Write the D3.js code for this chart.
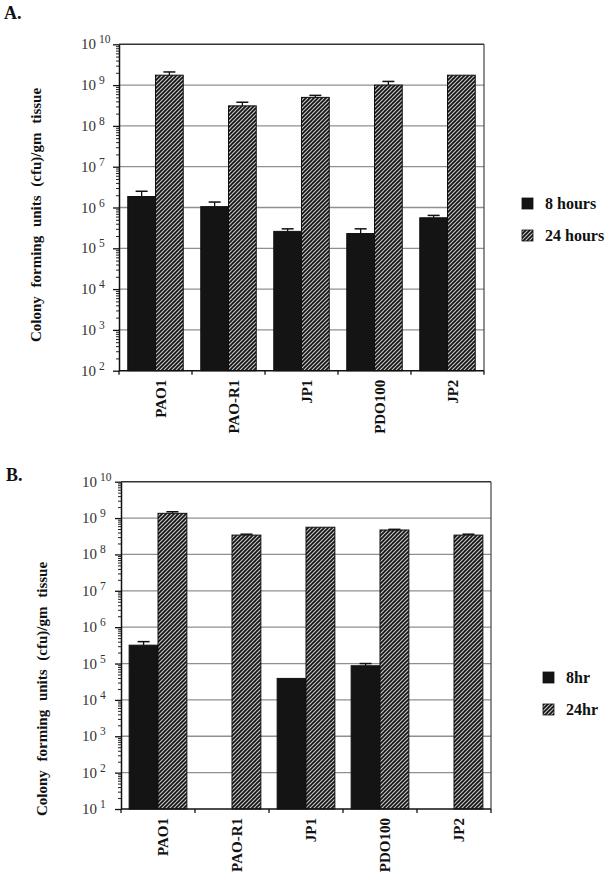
<!DOCTYPE html>
<html><head><meta charset="utf-8">
<script src="https://cdn.jsdelivr.net/npm/d3@7"></script>
<style>body{margin:0;background:#fff}svg{display:block}</style>
</head><body><svg id="c" width="616" height="887"></svg>
<script>
// ---- data ----
const strains = ["PAO1", "PAO-R1", "JP1", "PDO100", "JP2"];
const seriesKeys = ["s8", "s24"];
// Panel A (cfu/gm tissue)
const a8 = [1.86e6, 1.05e6, 2.6e5, 2.3e5, 5.6e5];
const a8err = [2.5e6, 1.36e6, 3.0e5, 3.0e5, 6.4e5];
const a24 = [1.75e9, 3.1e8, 5.0e8, 1.0e9, 1.75e9];
const a24err = [2.1e9, 3.8e8, 5.6e8, 1.23e9, null];
const legendA = ["8 hours", "24 hours"];
const expA = [2, 3, 4, 5, 6, 7, 8, 9, 10];
// Panel B
const b8 = [3.2e5, null, 3.9e4, 8.7e4, null];
const b8err = [4.0e5, null, null, 1.0e5, null];
const b24 = [1.35e9, 3.4e8, 5.6e8, 4.7e8, 3.4e8];
const b24err = [1.49e9, 3.6e8, null, 4.9e8, 3.6e8];
const legendB = ["8hr", "24hr"];
const expB = [1, 2, 3, 4, 5, 6, 7, 8, 9, 10];
const yTitle = "Colony forming units (cfu)/gm tissue";
const panelLabels = ["A.", "B."];

// ---- drawing ----
const FONT = "'Liberation Serif','Times New Roman',serif";
const svg = d3.select("#c");
svg.append("rect").attr("width", 616).attr("height", 887).attr("fill", "#fff");
const defs = svg.append("defs");
const pat = defs.append("pattern").attr("id", "hatch").attr("patternUnits", "userSpaceOnUse")
  .attr("width", 4).attr("height", 4);
pat.append("rect").attr("width", 4).attr("height", 4).attr("fill", "#c4c4c4");
pat.append("path").attr("d", "M-1,1 l2,-2 M0,4 l4,-4 M3,5 l2,-2")
  .attr("stroke", "#111").attr("stroke-width", 1.6);

function drawPanel(p, d) {
  const g = svg.append("g");
  const x = d3.scaleBand().domain(strains).range([p.left, p.right]);
  const bw = x.bandwidth();
  const xs = d3.scaleBand().domain(seriesKeys).range([bw * p.pad, bw * (1 - p.pad)]);
  const y = d3.scaleLog().domain([10 ** d.exps[0], 10 ** d.exps[d.exps.length - 1]]).range([p.bottom, p.top]);

  // grid
  g.selectAll("line.grid").data(d.exps.slice(1, -1)).join("line")
    .attr("x1", p.left).attr("x2", p.right)
    .attr("y1", e => y(10 ** e)).attr("y2", e => y(10 ** e))
    .attr("stroke", "#8f8f8f").attr("stroke-width", 1.3);
  // frame top & right
  g.append("line").attr("x1", p.left).attr("x2", p.right).attr("y1", p.top).attr("y2", p.top)
    .attr("stroke", "#333").attr("stroke-width", 1.6);
  g.append("line").attr("x1", p.right).attr("x2", p.right).attr("y1", p.top).attr("y2", p.bottom)
    .attr("stroke", "#444").attr("stroke-width", 1.2);

  // bars
  const series = [
    {k: "s8", v: d.v8, e: d.e8, fill: "#141414"},
    {k: "s24", v: d.v24, e: d.e24, fill: "url(#hatch)"}
  ];
  series.forEach(s => {
    const data = strains.map((c, i) => ({c, v: s.v[i], e: s.e[i]})).filter(o => o.v != null);
    g.selectAll(null).data(data).join("rect")
      .attr("x", o => x(o.c) + xs(s.k)).attr("width", xs.bandwidth())
      .attr("y", o => y(o.v)).attr("height", o => p.bottom - y(o.v))
      .attr("fill", s.fill).attr("stroke", "#111").attr("stroke-width", 1);
    const ed = data.filter(o => o.e != null);
    const cx = o => x(o.c) + xs(s.k) + xs.bandwidth() / 2;
    g.selectAll(null).data(ed).join("line")
      .attr("x1", cx).attr("x2", cx).attr("y1", o => y(o.v)).attr("y2", o => y(o.e))
      .attr("stroke", "#111").attr("stroke-width", 1.3);
    g.selectAll(null).data(ed).join("line")
      .attr("x1", o => cx(o) - 6).attr("x2", o => cx(o) + 6).attr("y1", o => y(o.e)).attr("y2", o => y(o.e))
      .attr("stroke", "#111").attr("stroke-width", 1.5);
  });

  // left axis major
  const major = d.exps.map(e => 10 ** e);
  const minor = [];
  d.exps.slice(0, -1).forEach(e => { for (let m = 2; m <= 9; m++) minor.push(m * 10 ** e); });
  const ax = g.append("g").attr("transform", `translate(${p.left},0)`)
    .call(d3.axisLeft(y).tickValues(major).tickFormat("").tickSize(6).tickSizeOuter(0));
  ax.select(".domain").attr("stroke", "#111").attr("stroke-width", 1.5);
  ax.selectAll(".tick line").attr("stroke", "#111").attr("stroke-width", 1.3);
  const axm = g.append("g").attr("transform", `translate(${p.left},0)`)
    .call(d3.axisLeft(y).tickValues(minor).tickFormat("").tickSize(3).tickSizeOuter(0));
  axm.select(".domain").remove();
  axm.selectAll(".tick line").attr("stroke", "#222").attr("stroke-width", 1);

  // y tick labels
  const lab = g.selectAll("text.yl").data(d.exps).join("text")
    .attr("x", p.labX).attr("y", e => y(10 ** e) + 5)
    .attr("font-family", FONT).attr("font-size", 15).attr("fill", "#333");
  lab.append("tspan").text("10");
  lab.append("tspan").attr("dx", 3).attr("dy", -6).attr("font-size", 11.5).text(e => String(e));

  // bottom axis
  g.append("line").attr("x1", p.left).attr("x2", p.right).attr("y1", p.bottom).attr("y2", p.bottom)
    .attr("stroke", "#111").attr("stroke-width", 1.5);
  const bounds = strains.map(c => x(c)).concat([p.right]);
  g.selectAll(null).data(bounds).join("line")
    .attr("x1", v => v).attr("x2", v => v).attr("y1", p.bottom).attr("y2", p.bottom + 4)
    .attr("stroke", "#111").attr("stroke-width", 1.3);
  g.selectAll(null).data(strains).join("text")
    .attr("transform", c => `translate(${x(c) + bw / 2 + 10},${p.bottom + 9}) rotate(-90)`)
    .attr("text-anchor", "end").attr("font-family", FONT).attr("font-weight", "bold")
    .attr("font-size", 15).attr("fill", "#111").text(c => c);

  // y title
  g.append("text").attr("transform", `translate(${p.titleX},${p.titleY}) rotate(-90)`)
    .attr("text-anchor", "middle").attr("font-family", FONT).attr("font-weight", "bold")
    .attr("font-size", 15).attr("fill", "#111").style("word-spacing", "5px").text(yTitle);

  // legend
  const fills = ["#141414", "url(#hatch)"];
  d.legend.forEach((t, i) => {
    g.append("rect").attr("x", p.legX).attr("y", p.legY + i * p.legGap).attr("width", 11).attr("height", 11)
      .attr("fill", fills[i]).attr("stroke", "#111").attr("stroke-width", 0.8);
    g.append("text").attr("x", p.legX + 23).attr("y", p.legY + i * p.legGap + 10.5)
      .attr("font-family", FONT).attr("font-weight", "bold").attr("font-size", 16).attr("fill", "#111").text(t);
  });

  // panel label
  g.append("text").attr("x", p.plX).attr("y", p.plY).attr("font-family", FONT).attr("font-weight", "bold")
    .attr("font-size", 18).attr("fill", "#111").text(d.label);
}

drawPanel(
  {left: 119, right: 484, top: 44.3, bottom: 370.7, pad: 0.12, labX: 81, titleX: 41, titleY: 215,
   legX: 522, legY: 198, legGap: 32, plX: 4, plY: 19},
  {v8: a8, e8: a8err, v24: a24, e24: a24err, legend: legendA, exps: expA, label: panelLabels[0]}
);
drawPanel(
  {left: 121, right: 491, top: 481.7, bottom: 809, pad: 0.11, labX: 82, titleX: 47, titleY: 689,
   legX: 543, legY: 672, legGap: 32, plX: 6, plY: 481},
  {v8: b8, e8: b8err, v24: b24, e24: b24err, legend: legendB, exps: expB, label: panelLabels[1]}
);
</script></body></html>
